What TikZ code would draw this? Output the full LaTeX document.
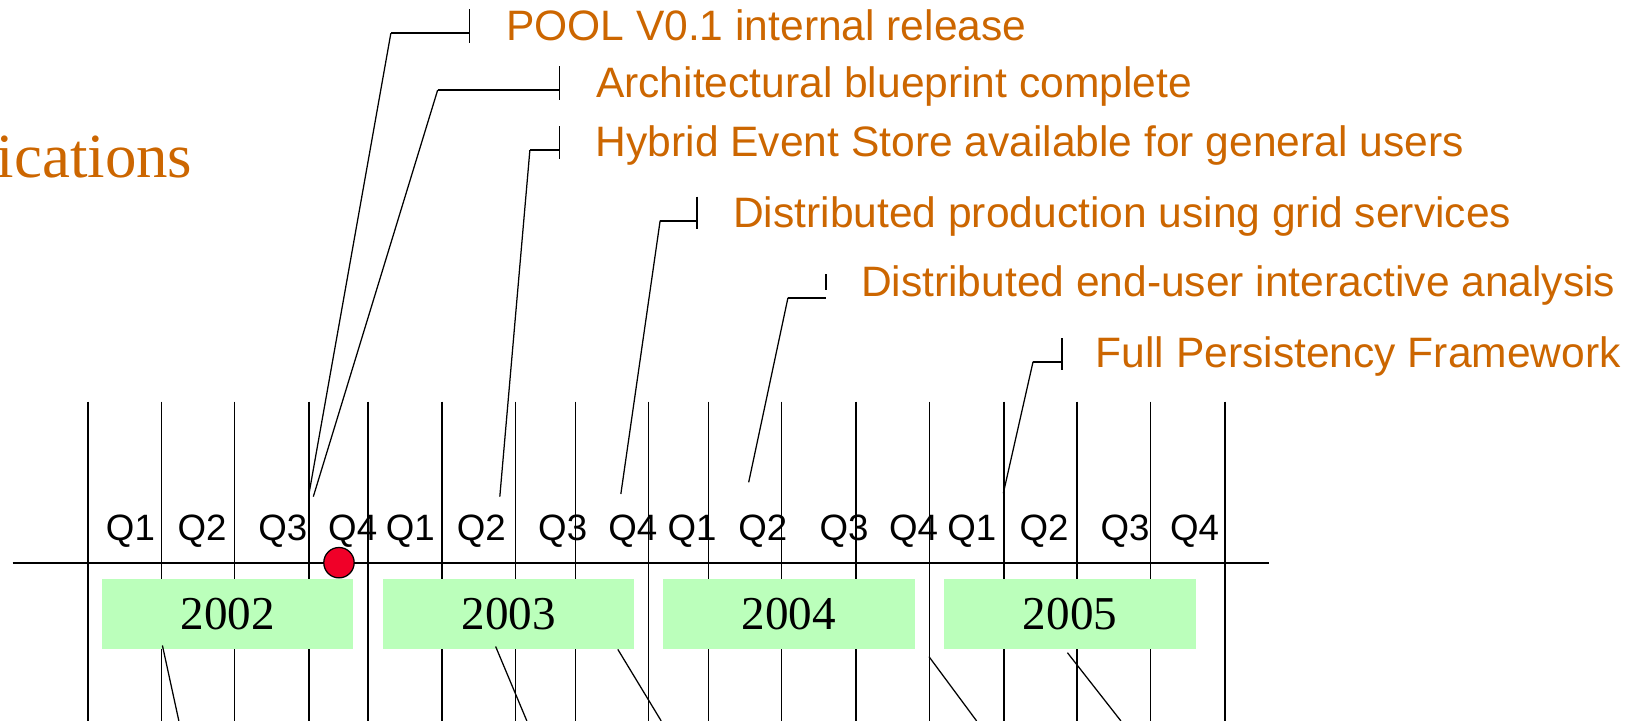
\documentclass[tikz,border=0pt]{standalone}
\usepackage{fontspec}
\setmainfont{Liberation Serif}
\newfontfamily\labelsans{Liberation Sans}
\definecolor{milestone}{RGB}{204,102,0}
\definecolor{yearfill}{RGB}{187,255,187}
\definecolor{dotred}{RGB}{240,0,40}
\tikzset{
  gridline/.style={line width=0.7pt},
  axisline/.style={line width=1pt},
  lead/.style={line width=0.6pt},
  bracket/.style={line width=0.8pt},
  mstext/.style={font=\labelsans\fontsize{20.3}{24}\selectfont, text=milestone, anchor=base west, inner sep=0pt},
  qlab/.style={font=\labelsans\fontsize{17.5}{20}\selectfont, anchor=base, inner sep=0pt},
  yearbox/.style={fill=yearfill, draw=none, minimum width=120pt, minimum height=33.8pt, inner sep=0pt,
    font=\fontsize{22.5}{26}\selectfont},
  titletext/.style={font=\fontsize{30}{34}\selectfont, text=milestone, anchor=base east, inner sep=0pt},
}
\begin{document}
\begin{tikzpicture}[x=0.5pt,y=-0.5pt]
\useasboundingbox (0,0) rectangle (1568,688);

% partial heading
\node[titletext] (heading) at (184,169.2) {ications};

% quarter grid
\foreach \gx in {84,154,224,295,351,422,492,549,619,676,746,817,887,958,1028,1098,1169}
  \draw[gridline] (\gx,383.4) -- (\gx,688);

% time axis
\coordinate (axisL) at (12,537);
\coordinate (axisR) at (1211,537);
\draw[axisline] (axisL) -- (axisR);

% quarter labels
\foreach \qx/\qn [count=\i] in {124.5/Q1,192.8/Q2,270/Q3,336.6/Q4,
    391.6/Q1,459.4/Q2,537/Q3,604/Q4,
    660.5/Q1,728/Q2,805.6/Q3,871.8/Q4,
    927.5/Q1,996.5/Q2,1073.6/Q3,1140/Q4}
  \node[qlab] (q\i) at (\qx,515.4) {\qn};

% year boxes
\node[yearbox] (y2002) at (217.3,585.9) {2002};
\node[yearbox] (y2003) at (485.5,585.9) {2003};
\node[yearbox] (y2004) at (752.8,585.9) {2004};
\node[yearbox] (y2005) at (1021.2,585.9) {2005};

% leads running below the years
\coordinate (b1s) at (155,616);     \coordinate (b1e) at (170.7,688);
\coordinate (b2s) at (473,617);     \coordinate (b2e) at (502.8,688);
\coordinate (b3s) at (589.6,619.7); \coordinate (b3e) at (631,688);
\coordinate (b4s) at (886.6,626.7); \coordinate (b4e) at (932,688);
\coordinate (b5s) at (1018.7,622.9);\coordinate (b5e) at (1069.7,688);
\foreach \k in {1,...,5}
  \draw[lead] (b\k s) -- (b\k e);

% milestones
\node[mstext] (m1) at (482.6,38.8)  {POOL V0.1 internal release};
\node[mstext] (m2) at (568.5,93.2)  {Architectural blueprint complete};
\node[mstext] (m3) at (568.3,149.5) {Hybrid Event Store available for general users};
\node[mstext] (m4) at (699.3,217.3) {Distributed production using grid services};
\node[mstext] (m5) at (821.3,283.1) {Distributed end-user interactive analysis};
\node[mstext] (m6) at (1045.4,350.6){Full Persistency Framework};

% tick, elbow and foot of each milestone lead
\coordinate (t1a) at (448,8.9);     \coordinate (t1b) at (448,40.7);
\coordinate (c1)  at (373,31.8);    \coordinate (j1) at (448,31.8);   \coordinate (e1) at (295,470.6);
\coordinate (t2a) at (533.9,63);    \coordinate (t2b) at (533.9,95);
\coordinate (c2)  at (417.7,85.9);  \coordinate (j2) at (533.9,85.9); \coordinate (e2) at (299,474);
\coordinate (t3a) at (533.9,120.3); \coordinate (t3b) at (533.9,151.4);
\coordinate (c3)  at (505.7,143.2); \coordinate (j3) at (533.9,143.2);\coordinate (e3) at (477,474);
\coordinate (t4a) at (665,187.7);   \coordinate (t4b) at (665,218.9);
\coordinate (c4)  at (630,210.6);   \coordinate (j4) at (665,210.6);  \coordinate (e4) at (592.5,471.5);
\coordinate (t5a) at (788.2,261.5); \coordinate (t5b) at (788.2,276.8);
\coordinate (c5)  at (752,284.1);   \coordinate (j5) at (788.2,284.1);\coordinate (e5) at (714.5,460.3);
\coordinate (t6a) at (1013.6,322.9);\coordinate (t6b) at (1013.6,353.1);
\coordinate (c6)  at (985.9,345.2); \coordinate (j6) at (1013.6,345.2);\coordinate (e6) at (957.5,470.8);
\foreach \k in {1,...,6} {
  \draw[bracket] (t\k a) -- (t\k b);
  \draw[bracket] (j\k) -- (c\k);
  \draw[lead] (c\k) -- (e\k);
}

% current date marker
\node[circle, fill=dotred, draw=black, line width=0.6pt, minimum size=14.5pt, inner sep=0pt] (now) at (323.5,537) {};
\end{tikzpicture}
\end{document}
